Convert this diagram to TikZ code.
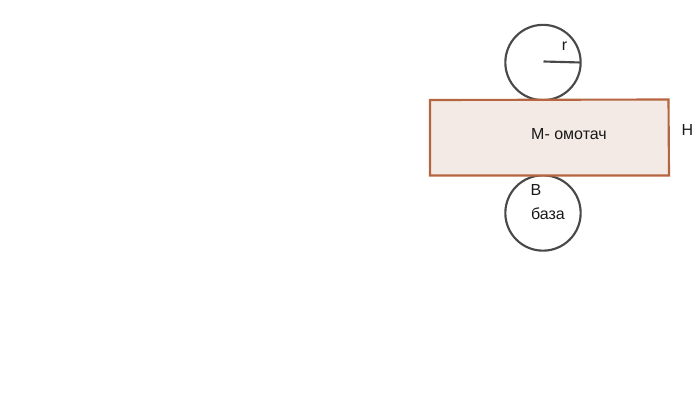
\documentclass[tikz,border=0pt]{standalone}
\usepackage{fontspec}
\setmainfont{Liberation Sans}
\definecolor{circ}{HTML}{4A4848}
\definecolor{rectline}{HTML}{B5653F}
\definecolor{rectfill}{HTML}{F3EAE6}
\tikzset{
  px/.style={x=0.75pt,y=-0.75pt},
  circleshape/.style={draw=circ,line width=1.6pt,circle,inner sep=0pt,minimum size=56.5pt},
  lbl/.style={inner sep=0pt,font=\fontsize{12pt}{14pt}\selectfont,text=black!90}
}
\begin{document}
\begin{tikzpicture}[px]
\useasboundingbox (0,0) rectangle (700,403);
\node[circleshape] (top) at (543,62.5) {};
\node[circleshape] (bot) at (543,213) {};
\path[draw=rectline,fill=rectfill,line width=1.6pt] (430,100) -- (668.5,99.5) -- (669,175.5) -- (430,175.5) -- cycle;
\coordinate (c) at (543.5,61.5);
\coordinate (e) at (581,62.5);
\draw[draw=circ,line width=1.6pt] (c) -- (e);
\node[lbl] (r) at (564.5,46) {r};
\node[lbl] (m) at (569,134) {М- омотач};
\node[lbl] (h) at (687.5,130) {Н};
\node[lbl] (b) at (536,190) {В};
\node[lbl] (baza) at (548,214) {база};
\end{tikzpicture}
\end{document}
